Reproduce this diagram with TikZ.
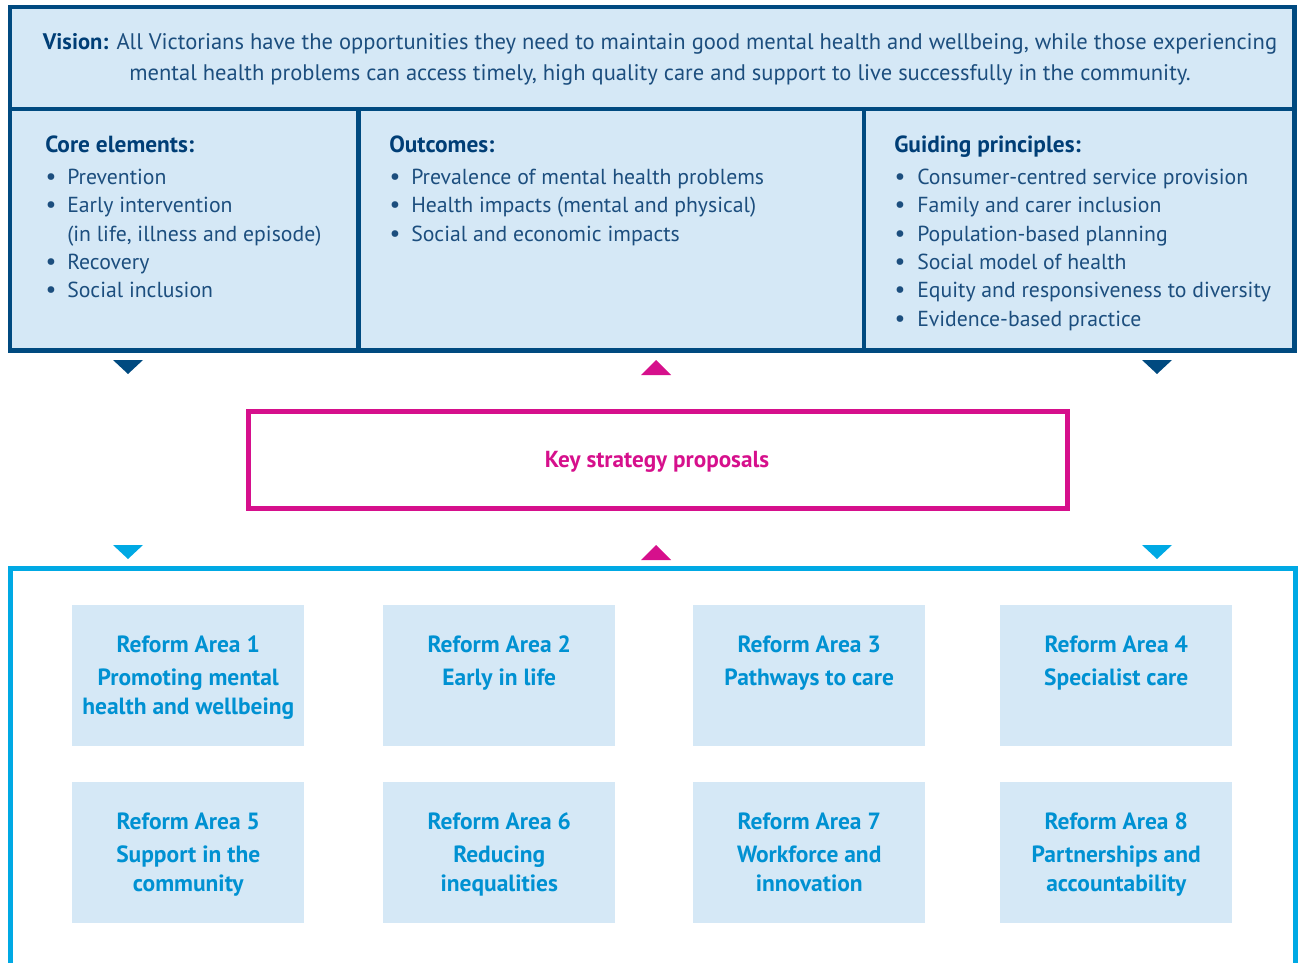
\documentclass[tikz,border=0pt]{standalone}
\usepackage{fontspec}
\setmainfont{PT Sans}
\definecolor{dblue}{RGB}{0,74,128}
\definecolor{txtblue}{RGB}{28,78,126}
\definecolor{hdblue}{RGB}{0,62,118}
\definecolor{lblue}{RGB}{213,232,246}
\definecolor{mag}{RGB}{214,16,140}
\definecolor{cyanb}{RGB}{0,169,228}
\definecolor{rtxt}{RGB}{0,145,210}
\tikzset{
  body/.style={inner sep=0pt, text=txtblue, font=\fontsize{16.3}{19}\selectfont},
  li/.style={body, anchor=base west},
  hd/.style={inner sep=0pt, anchor=base west, text=hdblue, font=\fontsize{17.5}{20}\selectfont\bfseries},
  bul/.style={inner sep=0pt, anchor=base, text=txtblue, font=\fontsize{18}{19}\selectfont},
  vis/.style={inner sep=0pt, anchor=base, text=txtblue, font=\fontsize{16.9}{19}\selectfont},
  panel/.style={draw=dblue, fill=lblue, line width=3.4pt},
  rbox/.style={fill=lblue, anchor=north west, minimum width=174pt, minimum height=105.75pt, inner sep=0pt},
  rtext/.style={inner sep=0pt, anchor=north, align=center, text=rtxt, font=\fontsize{17.6}{21.75}\selectfont\bfseries},
}
\begin{document}
\begin{tikzpicture}[x=0.75pt,y=-0.75pt]
\clip (0,0) rectangle (1304,963);
% top panel
\draw[panel] (10,7) rectangle (1294.5,350.5);
\draw[draw=dblue, line width=3.4pt] (10,109) -- (1294.5,109);
\draw[draw=dblue, line width=3.4pt] (358.5,109) -- (358.5,350.5);
\draw[draw=dblue, line width=3.4pt] (864,109) -- (864,350.5);
% vision
\node[vis] (v1) at (660,49.5) {\textbf{\color{hdblue}Vision:} All Victorians have the opportunities they need to maintain good mental health and wellbeing, while those experiencing};
\node[vis] (v2) at (660,80.5) {mental health problems can access timely, high quality care and support to live successfully in the community.};
% column 1
\node[hd] (h1) at (45,152.5) {Core elements:};
\foreach \y/\t in {184.5/Prevention, 212.5/Early intervention, 269.5/Recovery, 297.5/Social inclusion}{
  \node[bul] at (51,\y) {\textbullet};
  \node[li] at (67,\y) {\t};
}
\node[li] (c1x) at (67,241.5) {(in life, illness and episode)};
% column 2
\node[hd] (h2) at (389,152.5) {Outcomes:};
\foreach \y/\t in {184.5/Prevalence of mental health problems, 212.5/Health impacts (mental and physical), 241.5/Social and economic impacts}{
  \node[bul] at (395,\y) {\textbullet};
  \node[li] at (411,\y) {\t};
}
% column 3
\node[hd] (h3) at (894,152.5) {Guiding principles:};
\foreach \y/\t in {184.5/Consumer-centred service provision, 212.5/Family and carer inclusion, 241.5/Population-based planning, 269.5/Social model of health, 297.5/Equity and responsiveness to diversity, 326.5/Evidence-based practice}{
  \node[bul] at (900,\y) {\textbullet};
  \node[li] at (917,\y) {\t};
}
% triangles top
\fill[dblue] (113,360) -- (143,360) -- (128,374) -- cycle;
\fill[dblue] (1142,360) -- (1172,360) -- (1157,374) -- cycle;
\fill[mag] (641,375) -- (671,375) -- (656,360) -- cycle;
% key strategy box
\node[draw=mag, line width=3.75pt, minimum width=614.25pt, minimum height=72.75pt, inner sep=0pt] (ksp) at (657.5,459.5) {};
\node[inner sep=0pt, text=mag, font=\fontsize{17.4}{20}\selectfont\bfseries] (ksptext) at (657,461.5) {Key strategy proposals};
% triangles bottom
\fill[cyanb] (113,545) -- (143,545) -- (128,559) -- cycle;
\fill[cyanb] (1142,545) -- (1172,545) -- (1157,559) -- cycle;
\fill[mag] (641,560) -- (671,560) -- (656,545) -- cycle;
% bottom frame
\draw[draw=cyanb, line width=3.75pt] (10,1000) -- (10,568) -- (1295,568) -- (1295,1000);
% reform boxes
\foreach \n/\x/\y in {1/72/605, 2/383/605, 3/693/605, 4/1000/605, 5/72/782, 6/383/782, 7/693/782, 8/1000/782}{
  \node[rbox] (r\n) at (\x,\y) {};
}
\node[rtext] at ([yshift=-23pt]r1.north) {Reform Area 1\\[3pt]Promoting mental\\health and wellbeing};
\node[rtext] at ([yshift=-23pt]r2.north) {Reform Area 2\\[3pt]Early in life};
\node[rtext] at ([yshift=-23pt]r3.north) {Reform Area 3\\[3pt]Pathways to care};
\node[rtext] at ([yshift=-23pt]r4.north) {Reform Area 4\\[3pt]Specialist care};
\node[rtext] at ([yshift=-23pt]r5.north) {Reform Area 5\\[3pt]Support in the\\community};
\node[rtext] at ([yshift=-23pt]r6.north) {Reform Area 6\\[3pt]Reducing\\inequalities};
\node[rtext] at ([yshift=-23pt]r7.north) {Reform Area 7\\[3pt]Workforce and\\innovation};
\node[rtext] at ([yshift=-23pt]r8.north) {Reform Area 8\\[3pt]Partnerships and\\accountability};
\end{tikzpicture}
\end{document}
